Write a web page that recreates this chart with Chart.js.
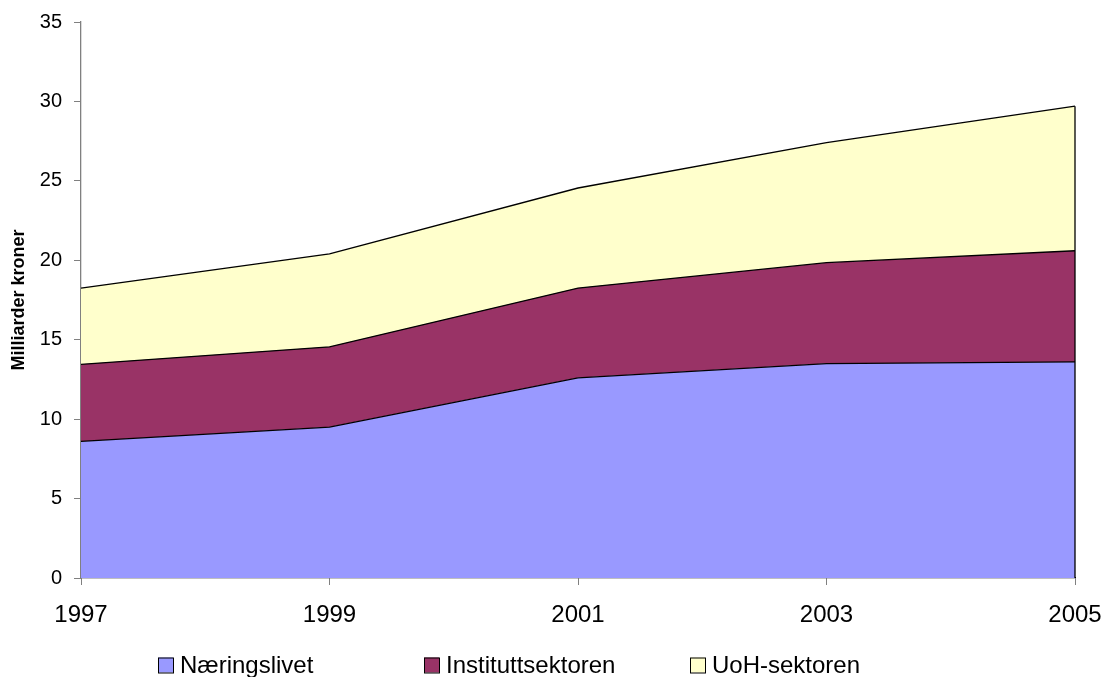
<!DOCTYPE html>
<html>
<head>
<meta charset="utf-8">
<script src="https://cdn.jsdelivr.net/npm/chart.js@4/dist/chart.umd.min.js"></script>
<style>
html,body{margin:0;padding:0;background:#fff;}
#wrap{width:1104px;height:677px;position:relative;}
</style>
</head>
<body>
<div id="wrap"><canvas id="c" width="1104" height="677"></canvas></div>
<script>
const years = ['1997', '1999', '2001', '2003', '2005'];
const naeringslivet = [8.6, 9.5, 12.6, 13.5, 13.6];
const instituttsektoren = [4.85, 5.05, 5.65, 6.35, 7.0];
const uohSektoren = [4.8, 5.85, 6.3, 7.55, 9.1];
const yTicks = [0, 5, 10, 15, 20, 25, 30, 35];

const FONT = 'Liberation Sans, Arial, sans-serif';

const edgePlugin = {
  id: 'edge',
  afterDatasetsDraw(chart) {
    const x = chart.scales.x, y = chart.scales.y;
    const last = years.length - 1;
    const total = naeringslivet[last] + instituttsektoren[last] + uohSektoren[last];
    const ctx = chart.ctx;
    ctx.save();
    ctx.strokeStyle = '#000';
    ctx.lineWidth = 1.3;
    ctx.beginPath();
    const px = x.getPixelForValue(last);
    ctx.moveTo(px, y.getPixelForValue(0));
    ctx.lineTo(px, y.getPixelForValue(total));
    ctx.stroke();
    ctx.restore();
  }
};

// Excel-style legend with equal-width columns
const legendPlugin = {
  id: 'colLegend',
  afterDraw(chart) {
    const ctx = chart.ctx;
    const startX = 158, colW = 266, cy = 665, box = 15;
    ctx.save();
    ctx.font = '24px ' + FONT;
    ctx.textBaseline = 'middle';
    ctx.textAlign = 'left';
    chart.data.datasets.forEach((ds, i) => {
      const bx = startX + i * colW;
      ctx.fillStyle = ds.backgroundColor;
      ctx.fillRect(bx, cy - box / 2, box, box);
      ctx.strokeStyle = '#000';
      ctx.lineWidth = 1;
      ctx.strokeRect(bx + 0.5, cy - box / 2 + 0.5, box, box);
      ctx.fillStyle = '#000';
      ctx.fillText(ds.label, bx + box + 7, cy + 1);
    });
    ctx.restore();
  }
};

new Chart(document.getElementById('c'), {
  type: 'line',
  data: {
    labels: years,
    datasets: [
      {label: 'Næringslivet', data: naeringslivet, backgroundColor: '#9999FF', borderColor: '#000', borderWidth: 1.3, fill: 'origin', pointRadius: 0, tension: 0},
      {label: 'Instituttsektoren', data: instituttsektoren, backgroundColor: '#993366', borderColor: '#000', borderWidth: 1.3, fill: '-1', pointRadius: 0, tension: 0},
      {label: 'UoH-sektoren', data: uohSektoren, backgroundColor: '#FFFFCC', borderColor: '#000', borderWidth: 1.3, fill: '-1', pointRadius: 0, tension: 0}
    ]
  },
  options: {
    responsive: false,
    animation: false,
    devicePixelRatio: 1,
    layout: {padding: {left: 0, right: 29, top: 22, bottom: 0}},
    plugins: {
      tooltip: {enabled: false},
      legend: {display: false}
    },
    scales: {
      x: {
        offset: false,
        afterFit(s) { s.height = 99; s.paddingLeft = 0; s.paddingRight = 0; },
        grid: {drawOnChartArea: false, drawTicks: true, tickLength: 7, color: '#808080'},
        border: {color: '#000', width: 1.3},
        ticks: {color: '#000', padding: 16, maxRotation: 0, font: {family: FONT, size: 24}}
      },
      y: {
        stacked: true,
        min: 0, max: 35,
        afterBuildTicks(s) { s.ticks = yTicks.map(v => ({value: v})); },
        afterFit(s) { s.width = 81; s.paddingTop = 0; s.paddingBottom = 0; },
        grid: {drawOnChartArea: false, drawTicks: true, tickLength: 7, color: '#808080'},
        border: {color: '#808080', width: 1.3},
        ticks: {color: '#000', padding: 12, font: {family: FONT, size: 20}},
        title: {display: true, text: 'Milliarder kroner', color: '#000', padding: {top: 8, bottom: 0}, font: {family: FONT, size: 18, weight: 'bold'}}
      }
    }
  },
  plugins: [edgePlugin, legendPlugin]
});
</script>
</body>
</html>
